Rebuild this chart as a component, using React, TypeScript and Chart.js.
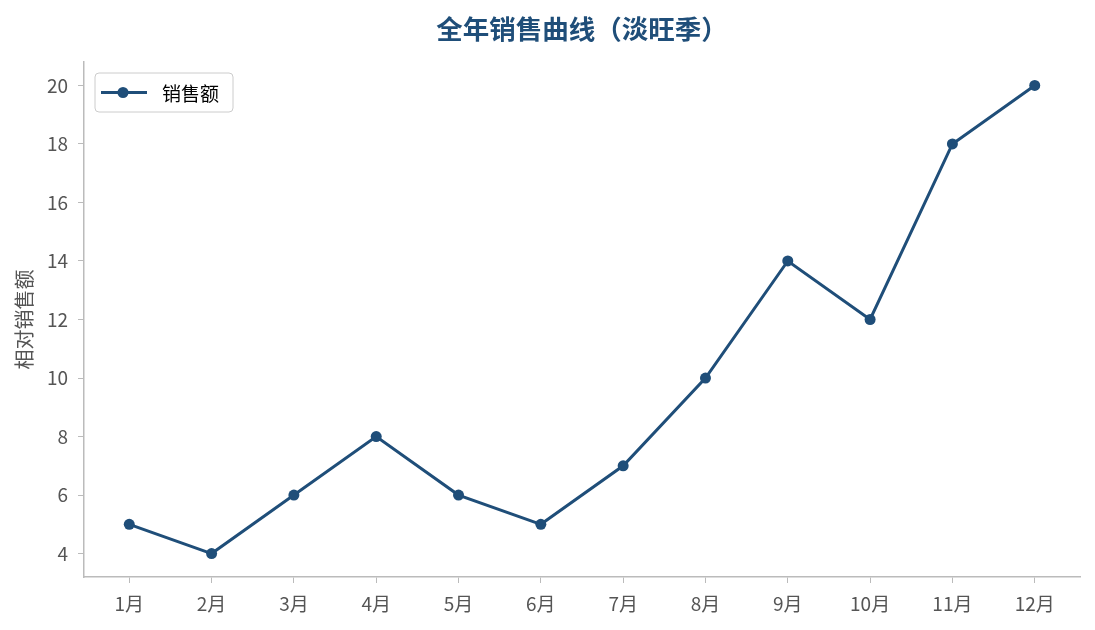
import { useEffect, useRef } from "react";
import Chart from "chart.js/auto";
import type { Plugin } from "chart.js";

const MONTHS = ["1月", "2月", "3月", "4月", "5月", "6月", "7月", "8月", "9月", "10月", "11月", "12月"];
const SALES = [5, 4, 6, 8, 6, 5, 7, 10, 14, 12, 18, 20];
const Y_TICKS = [4, 6, 8, 10, 12, 14, 16, 18, 20];

const BLUE = "#1f4e79";
const FONT = "'Noto Sans CJK SC', 'Noto Sans', sans-serif";

// legend drawn inside the plot, matplotlib style (rounded box, line + marker)
const boxLegend: Plugin<"line"> = {
  id: "boxLegend",
  afterDraw(chart) {
    const { ctx, chartArea } = chart;
    const ds = chart.data.datasets[0];
    const x = chartArea.left + 11;
    const y = chartArea.top + 11;
    const w = 138;
    const h = 39;
    ctx.save();
    ctx.beginPath();
    ctx.roundRect(x, y, w, h, 4);
    ctx.fillStyle = "rgba(255,255,255,0.85)";
    ctx.fill();
    ctx.strokeStyle = "#cccccc";
    ctx.lineWidth = 1;
    ctx.stroke();
    const cy = y + h / 2;
    ctx.beginPath();
    ctx.moveTo(x + 6, cy);
    ctx.lineTo(x + 52, cy);
    ctx.strokeStyle = BLUE;
    ctx.lineWidth = 3;
    ctx.stroke();
    ctx.beginPath();
    ctx.arc(x + 28, cy, 5.5, 0, Math.PI * 2);
    ctx.fillStyle = BLUE;
    ctx.fill();
    ctx.fillStyle = "#000";
    ctx.font = `19px ${FONT}`;
    ctx.textBaseline = "middle";
    ctx.fillText(String(ds.label), x + 67, cy + 1);
    ctx.restore();
  },
};

export default function App() {
  const canvasRef = useRef<HTMLCanvasElement>(null);

  useEffect(() => {
    if (!canvasRef.current) return;
    const chart = new Chart(canvasRef.current, {
      type: "line",
      data: {
        datasets: [
          {
            label: "销售额",
            data: SALES.map((v, i) => ({ x: i, y: v })),
            borderColor: BLUE,
            backgroundColor: BLUE,
            borderWidth: 3,
            pointRadius: 5.5,
            pointBorderWidth: 0,
            pointHoverRadius: 5.5,
            tension: 0,
          },
        ],
      },
      options: {
        animation: false,
        responsive: false,
        layout: { padding: { left: 0, right: 15, top: 0, bottom: 0 } },
        plugins: {
          legend: { display: false },
          tooltip: { enabled: false },
          title: {
            display: true,
            text: "全年销售曲线（淡旺季）",
            color: BLUE,
            fullSize: false,
            font: { family: FONT, size: 26.5, weight: "bold", lineHeight: 1.2 },
            padding: { top: 13, bottom: 17.2 },
          },
        },
        scales: {
          x: {
            type: "linear",
            min: -0.55,
            max: 11.55,
            afterBuildTicks: (s) => {
              s.ticks = MONTHS.map((_, i) => ({ value: i }));
            },
            afterFit: (s) => {
              s.height = 53;
            },
            ticks: {
              color: "#555",
              font: { family: FONT, size: 19 },
              padding: 9,
              callback: (v) => MONTHS[Number(v)] ?? "",
            },
            grid: { drawOnChartArea: false, drawTicks: true, tickLength: 6, color: "#bbb" },
            border: { color: "#bbb", width: 1.5 },
          },
          y: {
            min: 3.2,
            max: 20.8,
            afterBuildTicks: (s) => {
              s.ticks = Y_TICKS.map((v) => ({ value: v }));
            },
            afterFit: (s) => {
              s.width = 84;
            },
            ticks: {
              color: "#555",
              font: { family: FONT, size: 19 },
              padding: 10,
            },
            title: {
              display: true,
              text: "相对销售额",
              color: "#555",
              font: { family: FONT, size: 20, lineHeight: 1.2 },
              padding: { top: 12, bottom: 0 },
            },
            grid: { drawOnChartArea: false, drawTicks: true, tickLength: 6, color: "#bbb" },
            border: { color: "#bbb", width: 1.5 },
          },
        },
      },
      plugins: [boxLegend],
    });
    return () => chart.destroy();
  }, []);

  return (
    <div style={{ position: "fixed", left: 0, top: 0, width: 1095, height: 630, background: "#fff" }}>
      <canvas ref={canvasRef} width={1095} height={630} style={{ width: 1095, height: 630 }} />
    </div>
  );
}
